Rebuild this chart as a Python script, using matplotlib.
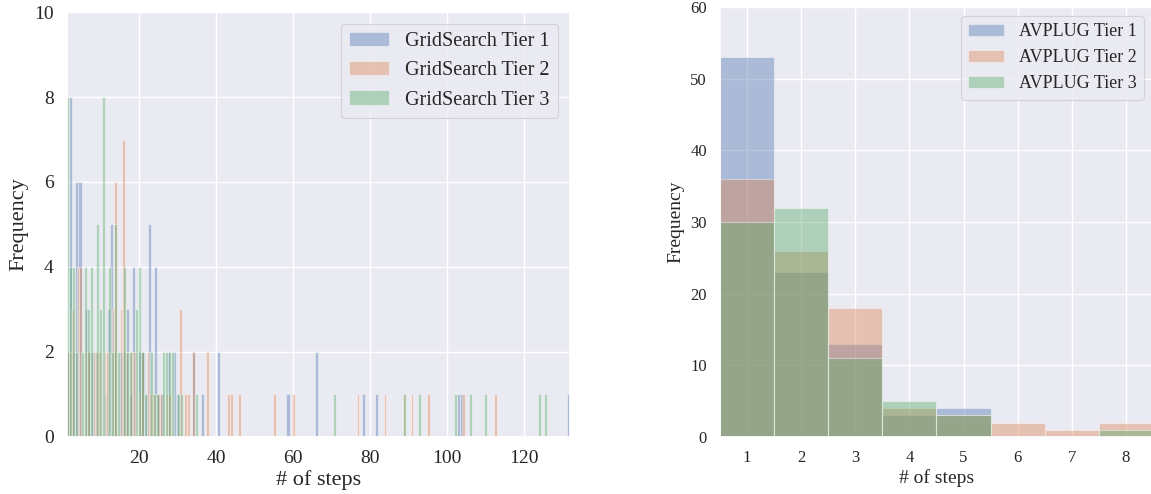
import numpy as np
import matplotlib
matplotlib.use("Agg")
import matplotlib.pyplot as plt
import seaborn as sns

# ---------------- data ----------------
# GridSearch: number of steps -> frequency
gs_t1_steps = [1, 2, 3, 4, 5, 6, 7, 8, 9, 10, 11, 12, 13, 14, 15, 16, 17, 18, 19, 20,
               21, 22, 23, 24, 25, 26, 28, 29, 30, 34, 37, 41, 59, 66, 78, 82, 103, 104, 132]
gs_t1_counts = [2, 8, 2, 6, 6, 3, 2, 2, 2, 2, 1, 3, 5, 2, 2, 2, 3, 1, 4, 2,
                2, 1, 5, 4, 1, 1, 2, 2, 1, 2, 1, 2, 1, 2, 1, 1, 1, 1, 1]

gs_t2_steps = [1, 2, 3, 4, 5, 6, 7, 8, 9, 10, 11, 12, 13, 14, 15, 16, 17, 18, 19, 20,
               21, 22, 23, 24, 25, 26, 27, 28, 31, 32, 33, 34, 38, 43, 44, 46, 55, 60,
               77, 84, 89, 91, 95, 104, 113]
gs_t2_counts = [2, 2, 3, 4, 4, 2, 2, 2, 2, 2, 2, 2, 3, 6, 3, 7, 2, 2, 2, 1,
                2, 2, 1, 1, 1, 1, 1, 1, 3, 1, 1, 2, 2, 1, 1, 1, 1, 1,
                1, 1, 1, 1, 1, 1, 1]

gs_t3_steps = [1, 2, 3, 4, 5, 6, 7, 8, 9, 10, 11, 12, 13, 14, 15, 16, 17, 18, 19, 20,
               21, 22, 23, 24, 25, 26, 27, 28, 29, 30, 31, 35, 71, 89, 93, 102, 106,
               110, 124, 126]
gs_t3_counts = [8, 4, 4, 2, 2, 4, 3, 4, 5, 3, 8, 4, 2, 5, 2, 4, 2, 2, 3, 4,
                2, 1, 2, 1, 1, 2, 2, 2, 2, 1, 1, 1, 1, 1, 1, 1, 1,
                1, 1, 1]

# AVPLUG: number of steps -> frequency
av_steps = [1, 2, 3, 4, 5, 6, 7, 8]
av_t1_counts = [53, 23, 13, 3, 4, 0, 0, 0]
av_t2_counts = [36, 26, 18, 4, 3, 2, 1, 2]
av_t3_counts = [30, 32, 11, 5, 3, 0, 0, 1]

gs_labels = ["GridSearch Tier 1", "GridSearch Tier 2", "GridSearch Tier 3"]
av_labels = ["AVPLUG Tier 1", "AVPLUG Tier 2", "AVPLUG Tier 3"]

# ---------------- style ----------------
sns.set_theme(style="darkgrid")
plt.rcParams["font.family"] = ["Liberation Serif", "DejaVu Serif"]
plt.rcParams["patch.linewidth"] = 0.8

fig = plt.figure(figsize=(11.51, 4.94), dpi=100)
ax1 = fig.add_axes([0.0582, 0.1154, 0.4370, 0.8603])
ax2 = fig.add_axes([0.6255, 0.1154, 0.3762, 0.8704])

# ---------------- left: GridSearch ----------------
gs_sets = [(gs_t1_steps, gs_t1_counts), (gs_t2_steps, gs_t2_counts), (gs_t3_steps, gs_t3_counts)]
for (st, ct), lab in zip(gs_sets, gs_labels):
    vals = np.repeat(st, ct)
    ax1.hist(vals, bins=160, alpha=0.4, label=lab)
ax1.set_xlim(1.3, 132)
ax1.set_ylim(0, 10)
ax1.set_xticks([20, 40, 60, 80, 100, 120])
ax1.set_yticks([0, 2, 4, 6, 8, 10])
ax1.tick_params(labelsize=14)
ax1.set_xlabel("# of steps", fontsize=16, labelpad=2)
ax1.set_ylabel("Frequency", fontsize=16)
ax1.legend(loc="upper right", fontsize=14.5, borderaxespad=0.6)

# ---------------- right: AVPLUG ----------------
edges = np.arange(0.5, 9.5, 1.0)
for ct, lab in zip([av_t1_counts, av_t2_counts, av_t3_counts], av_labels):
    vals = np.repeat(av_steps, ct)
    ax2.hist(vals, bins=edges, alpha=0.4, label=lab)
ax2.set_xlim(0.5, 8.5)
ax2.set_ylim(0, 60)
ax2.set_xticks(av_steps)
ax2.set_yticks([0, 10, 20, 30, 40, 50, 60])
ax2.tick_params(labelsize=12)
ax2.set_xlabel("# of steps", fontsize=14, labelpad=2)
ax2.set_ylabel("Frequency", fontsize=14)
ax2.legend(loc="upper right", fontsize=13, borderaxespad=0.5)

fig.savefig("out.png", dpi=100)
